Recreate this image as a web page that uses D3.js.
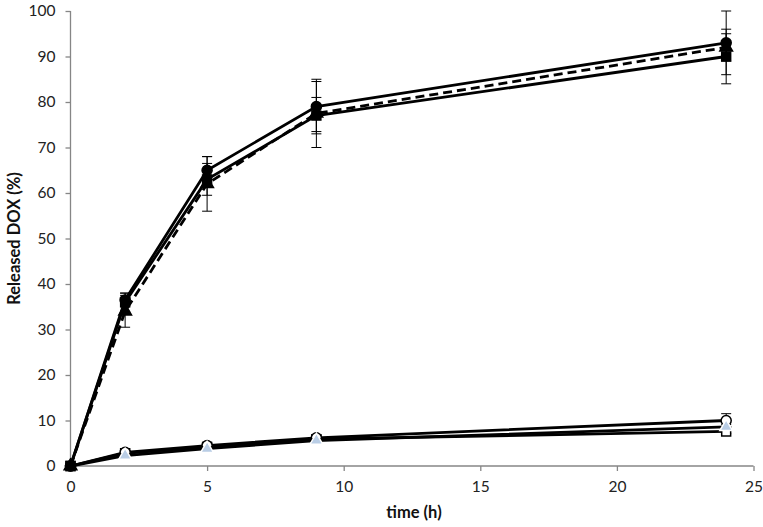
<!DOCTYPE html>
<html><head><meta charset="utf-8">
<script src="https://cdn.jsdelivr.net/npm/d3@7"></script>
<style>body{margin:0;background:#fff}svg{display:block}</style>
</head><body>
<svg id="c" width="763" height="527"></svg>
<script>
const times = [0, 2, 5, 9, 24];
const xTicks = [0, 5, 10, 15, 20, 25];
const yTicks = [0, 10, 20, 30, 40, 50, 60, 70, 80, 90, 100];

const upperCircle = [0, 36.5, 65, 79, 93];
const upperCircleErr = [0, 1.5, 3, 5.5, 7];
const upperSquare = [0, 36, 63, 77, 90];
const upperSquareErr = [0, 2, 3.5, 4, 6];
const upperTriangle = [0, 34, 62, 77.5, 92];
const upperTriangleErr = [0, 3.5, 6, 7.5, 3];

const lowerCircle = [0, 3, 4.5, 6.2, 10];
const lowerCircleErr = [0, 0.8, 0.7, 0.6, 1.5];
const lowerSquare = [0, 2.8, 4.2, 5.9, 7.6];
const lowerSquareErr = [0, 0.5, 0.5, 0.5, 0.5];
const lowerTriangle = [0, 2.3, 3.8, 5.6, 8.6];
const lowerTriangleErr = [0, 0.4, 0.4, 0.4, 0.5];

const series = [
  {v: lowerSquare, e: lowerSquareErr, shape: "square", fill: "#fff", dash: null},
  {v: lowerCircle, e: lowerCircleErr, shape: "circle", fill: "#fff", dash: null},
  {v: lowerTriangle, e: lowerTriangleErr, shape: "triangle", fill: "#b9cde5", dash: null},
  {v: upperTriangle, e: upperTriangleErr, shape: "triangle", fill: "#000", dash: "9,5"},
  {v: upperSquare, e: upperSquareErr, shape: "square", fill: "#000", dash: null},
  {v: upperCircle, e: upperCircleErr, shape: "circle", fill: "#000", dash: null}
];

const svg = d3.select("#c");
const x = d3.scaleLinear().domain([0, 25]).range([70.5, 753.5]);
const y = d3.scaleLinear().domain([0, 100]).range([466, 11]);
const font = "Lato, 'Open Sans', sans-serif";

// axes
const xa = svg.append("g").attr("transform", `translate(0,${y(0)})`)
  .call(d3.axisBottom(x).tickValues(xTicks).tickSize(5).tickPadding(10));
const ya = svg.append("g").attr("transform", `translate(${x(0)},0)`)
  .call(d3.axisLeft(y).tickValues(yTicks).tickSize(5).tickPadding(10));
[xa, ya].forEach(g => {
  g.selectAll("path,line").attr("stroke", "#868686").attr("stroke-width", 1.3);
  g.selectAll("text").attr("font-family", font).attr("font-size", 15.5).attr("fill", "#222");
});
xa.select("path").attr("d", `M${x(0)},0H${x(25)}`);
ya.select("path").attr("d", `M0,${y(0)}V${y(100)}`);

svg.append("text").attr("x", (x(0)+x(25))/2 + 2).attr("y", 518).attr("text-anchor", "middle")
  .attr("font-family", font).attr("font-weight", "bold").attr("font-size", 16.5).attr("fill", "#111").text("time (h)");
svg.append("text").attr("transform", `translate(20,${(y(0)+y(100))/2}) rotate(-90)`).attr("text-anchor", "middle")
  .attr("font-family", font).attr("font-weight", "bold").attr("font-size", 16.5).attr("fill", "#111").text("Released DOX (%)");

const line = d3.line().x((d, i) => x(times[i])).y(d => y(d));

series.forEach(s => {
  const g = svg.append("g");
  times.forEach((t, i) => {
    if (!s.e[i]) return;
    const cx = x(t), y1 = y(s.v[i] + s.e[i]), y2 = y(s.v[i] - s.e[i]);
    g.append("line").attr("x1", cx).attr("x2", cx).attr("y1", y1).attr("y2", y2).attr("stroke", "#000").attr("stroke-width", 1);
    [y1, y2].forEach(yy => g.append("line").attr("x1", cx-5).attr("x2", cx+5).attr("y1", yy).attr("y2", yy).attr("stroke", "#000").attr("stroke-width", 1));
  });
  g.append("path").attr("d", line(s.v)).attr("fill", "none").attr("stroke", "#000")
    .attr("stroke-width", 2.8).attr("stroke-dasharray", s.dash);
  const sym = s.shape === "circle" ? d3.symbolCircle : s.shape === "square" ? d3.symbolSquare : d3.symbolTriangle;
  g.selectAll("path.m").data(s.v).enter().append("path").attr("class", "m")
    .attr("transform", (d, i) => `translate(${x(times[i])},${y(d)})`)
    .attr("d", d3.symbol().type(sym).size(s.shape === "triangle" ? 70 : 80))
    .attr("fill", s.fill).attr("stroke", s.fill === "#b9cde5" ? "#fff" : "#000").attr("stroke-width", 1.5);
});
</script>
</body></html>
